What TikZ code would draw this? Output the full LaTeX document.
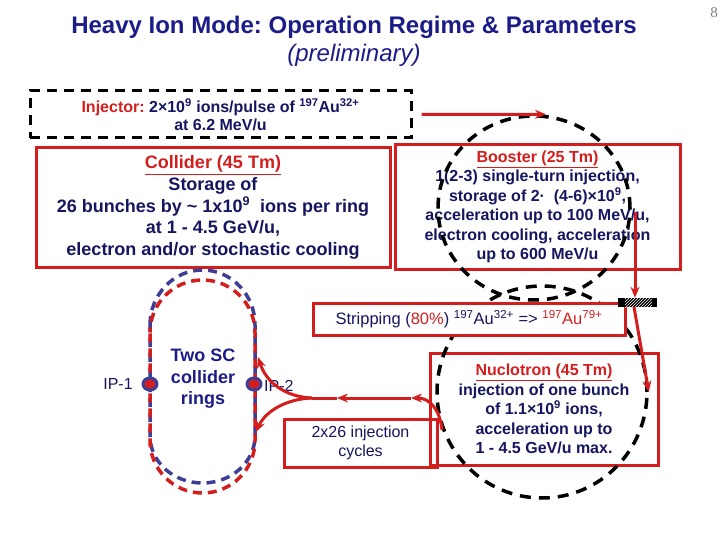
\documentclass[tikz,border=0pt]{standalone}
\usepackage{fontspec}
\setmainfont{Liberation Sans}
\newfontfamily\serifnum{Liberation Serif}
\usetikzlibrary{arrows.meta,shapes.geometric,patterns}
\definecolor{navy}{RGB}{22,22,96}
\definecolor{titleblue}{RGB}{28,28,136}
\definecolor{dred}{RGB}{212,30,30}
\definecolor{rblue}{RGB}{62,62,150}
\frenchspacing
\begin{document}
\begin{tikzpicture}[x=1pt,y=-1pt,
  redbox/.style={draw=dred, line width=3pt, fill=white, inner sep=0pt, align=center, text=navy},
  dashbox/.style={draw=black, line width=3pt, dash pattern=on 10pt off 7pt, inner sep=0pt, align=center, text=navy},
  ringdash/.style={ellipse, draw=black, line width=3.5pt, dash pattern=on 11pt off 8pt, inner sep=0pt},
  redarrow/.style={draw=dred, line width=3pt, -{Stealth[length=11pt,width=9pt]}},
  redline/.style={draw=dred, line width=3pt},
  ipdot/.style={ellipse, draw=rblue, fill=dred, line width=3pt, minimum width=14, minimum height=12, inner sep=0pt},
  body/.style={font=\fontsize{16}{19.5}\selectfont\bfseries},
]
\useasboundingbox (0,0) rectangle (720,540);

% title
\node[font=\fontsize{24}{28}\selectfont\bfseries, text=titleblue] (title) at (354,27) {Heavy Ion Mode: Operation Regime \& Parameters};
\node[font=\fontsize{24}{28}\selectfont\itshape, text=titleblue] (subtitle) at (354,55) {(preliminary)};
\node[font=\serifnum\fontsize{15}{15}\selectfont, text=gray] (pg) at (714,13) {8};

% injector
\node[dashbox, minimum width=381, minimum height=47, font=\fontsize{16}{18}\selectfont\bfseries] (inj) at (220.5,114.5)
  {\textcolor{dred}{Injector:} 2×10\textsuperscript{9} ions/pulse of \textsuperscript{197}Au\textsuperscript{32+}\\at 6.2 MeV/u};

% collider
\node[redbox, minimum width=354, minimum height=119, font=\fontsize{18}{21.6}\selectfont\bfseries] (coll) at (213,207.5)
  {\textcolor{dred}{\underline{Collider (45 Tm)}}\\Storage of\\26 bunches by \textasciitilde{} 1x10\textsuperscript{9}~ ions per ring\\at 1 - 4.5 GeV/u,\\electron and/or stochastic cooling};

% booster
\node[redbox, minimum width=285, minimum height=124, body] (boost) at (537.5,207)
  {\textcolor{dred}{\underline{Booster (25 Tm)}}\\1(2-3) single-turn injection,\\storage of 2·~ (4-6)×10\textsuperscript{9},\\acceleration up to 100 MeV/u,\\electron cooling, acceleration\\up to 600 MeV/u};
\node[ringdash, minimum width=192, minimum height=184] (bring) at (534,208) {};

\draw[redarrow] ([xshift=9]inj.east) -- ([xshift=12]bring.north);

% nuclotron
\node[redbox, minimum width=228, minimum height=112, body] (nuc) at (544,409)
  {\textcolor{dred}{\underline{Nuclotron (45 Tm)}}\\injection of one bunch\\of 1.1×10\textsuperscript{9} ions,\\acceleration up to\\1 - 4.5 GeV/u max.};

% injection cycles box (no fill, overlaps nuclotron box edge)
\node[redbox, fill=none, minimum width=153, minimum height=48, font=\fontsize{16}{19.5}\selectfont] (cyc) at (360.5,443) {2x26 injection\\cycles};

\node[ringdash, minimum width=210, minimum height=212] (nring) at (542,392) {};

% stripping
\node[redbox, minimum width=312, minimum height=32, font=\fontsize{16.5}{19}\selectfont] (strip) at (469,319)
  {Stripping (\textcolor{dred}{80\%}) \textsuperscript{197}Au\textsuperscript{32+} => \textcolor{dred}{\textsuperscript{197}Au\textsuperscript{79+}}};

% stripper bar and arrows
\node[fill=black, minimum width=39, minimum height=9, inner sep=0pt] (bar) at (637.5,302.5) {};
\fill[pattern=north east lines, pattern color=white] ([xshift=7]bar.south west) rectangle ([xshift=-5]bar.north east);
\coordinate (bdown) at (635,212);
\coordinate (bout) at (634,307);
\draw[redarrow] (bdown) -- (bar.north -| bdown);
\draw[redarrow] (bout) -- (nring.east);

% collider rings
\draw[rblue, line width=3.5pt, dash pattern=on 9pt off 6pt] (150,325) arc[start angle=180, end angle=360, x radius=52.5, y radius=55] -- (255,436) arc[start angle=0, end angle=180, x radius=52.5, y radius=47] -- cycle;
\draw[dred, line width=3.5pt, dash pattern=on 9pt off 6pt, dash phase=4pt] (150,332.5) arc[start angle=180, end angle=360, radius=52.5] -- (255,440.5) arc[start angle=0, end angle=180, radius=52.5] -- cycle;

\node[ipdot] (ip1) at (150,384) {};
\node[ipdot] (ip2) at (254,384) {};
\node[font=\fontsize{16}{19}\selectfont, text=navy] (ip1l) at (118,384) {IP-1};
\node[font=\fontsize{16}{19}\selectfont, text=navy, anchor=west, inner sep=0pt] (ip2l) at (264,386) {IP-2};
\node[font=\fontsize{18}{21.5}\selectfont\bfseries, text=titleblue, align=center] (rings) at (203,379) {Two SC\\collider\\rings};

% transfer arrows nuclotron -> collider
\coordinate (nleft) at (442,430);
\coordinate (m1) at (411,398);
\coordinate (m2) at (337,398);
\coordinate (split) at (312,398);
\coordinate (rin1) at (258,357);
\coordinate (rin2) at (256,432);
\draw[redarrow] (nleft) .. controls (440,410) and (430,398) .. (m1);
\draw[redarrow] (m1) -- (m2);
\draw[redline] (m2) -- (split);
\draw[redarrow] (split) .. controls (285,397) and (266,382) .. (rin1);
\draw[redarrow] (split) .. controls (285,399) and (265,412) .. (rin2);
\end{tikzpicture}
\end{document}
